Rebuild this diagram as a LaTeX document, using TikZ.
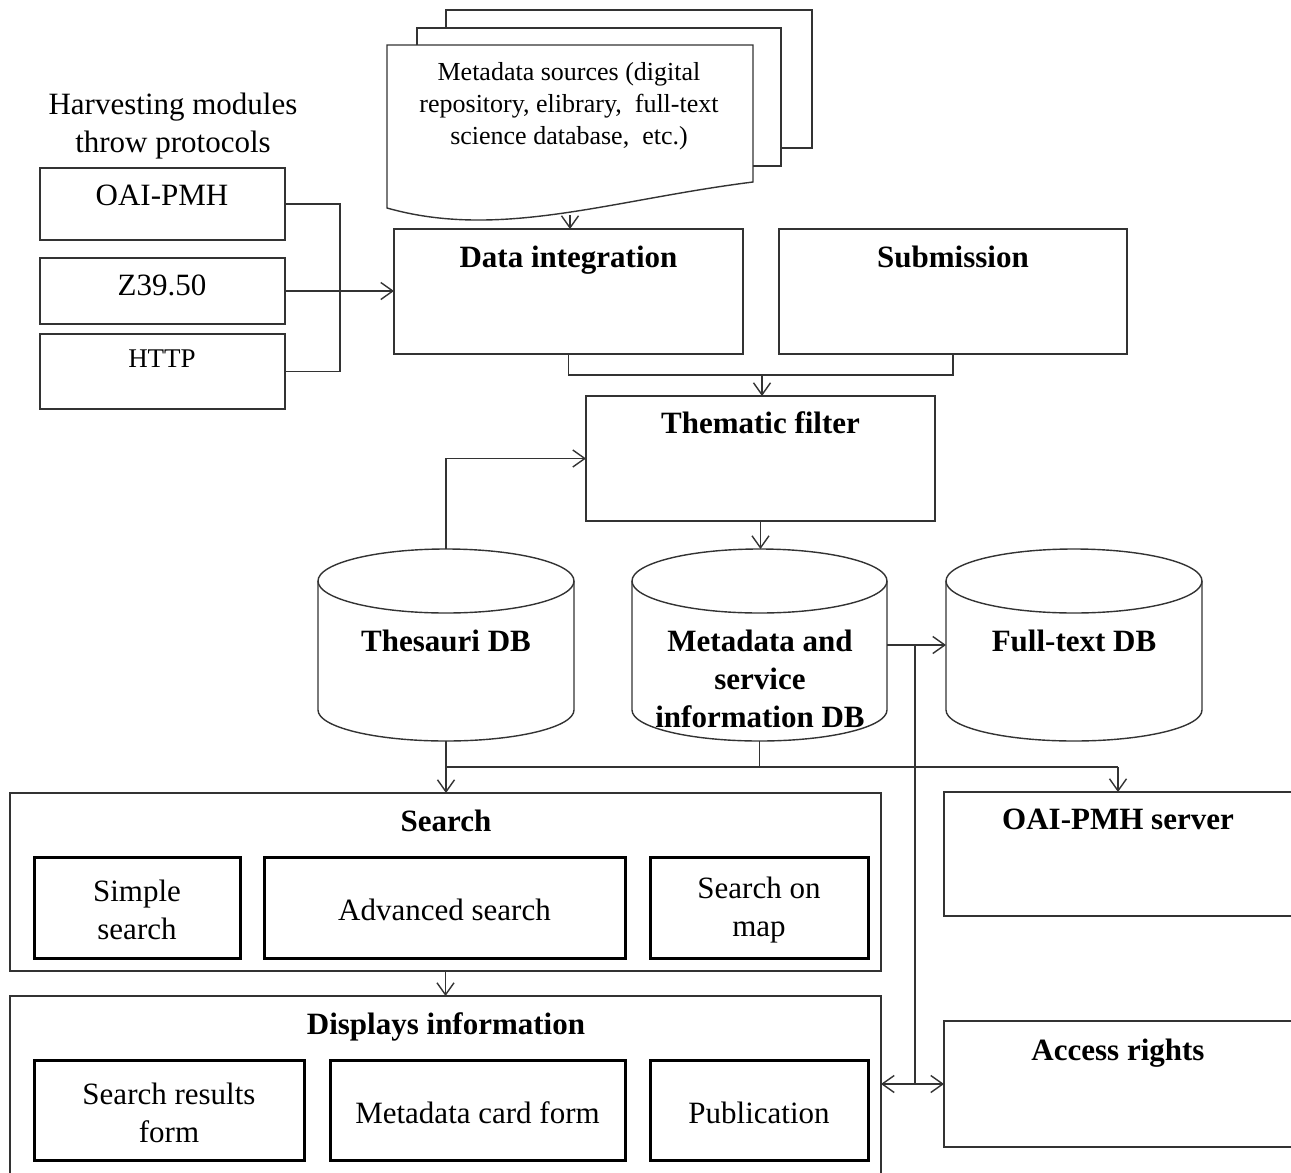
\documentclass[tikz,border=0pt]{standalone}
\usepackage{fontspec}
\setmainfont{Liberation Serif}
\usetikzlibrary{arrows.meta,calc,fit}
\tikzset{
  ln/.style={draw=black!80, line width=1.4pt},
  box/.style={rectangle, draw=black!80, line width=1.4pt, inner sep=0pt, outer sep=0pt},
  ibox/.style={rectangle, draw=black, line width=3pt, inner sep=0pt, outer sep=0pt},
  itxt/.style={font=\fontsize{31}{38}\selectfont, align=center, inner sep=0pt, anchor=center},
  ghost/.style={rectangle, inner sep=0pt, outer sep=0pt},
  ttl/.style={font=\bfseries\fontsize{31}{38}\selectfont, anchor=base, inner sep=0pt},
  txt/.style={font=\fontsize{31}{38}\selectfont, anchor=base, inner sep=0pt},
  arr/.style={ln, -{Straight Barb[length=12pt,width=17pt]}},
}
\begin{document}
\begin{tikzpicture}[x=1pt,y=-1pt]
\useasboundingbox (0,0) rectangle (1291,1173);
\fill[white] (0,0) rectangle (1291,1173);
\clip (0,0) rectangle (1291,1173);

% harvesting
\node[font=\fontsize{31}{38}\selectfont, align=center, inner sep=0pt] (harv) at (173,126) {Harvesting modules\\throw protocols};
\node[box, fit={(40,168) (285,240)}] (oai) {};
\node[box, fit={(40,258) (285,324)}] (z) {};
\node[box, fit={(40,334) (285,409)}] (http) {};
\node[txt] (oait) at (162,205) {OAI-PMH};
\node[txt] (zt) at (162,295) {Z39.50};
\node[txt, font=\fontsize{27}{32}\selectfont] (httpt) at (162,367) {HTTP};

% document stack
\node[ghost, fit={(387,45) (753,215)}] (doc) {};
\draw[ln] (446,28) -- (446,10) -- (812,10) -- (812,148) -- (781,148);
\draw[ln] (417,45) -- (417,28) -- (781,28) -- (781,166) -- (753,166);
\draw[ln] (doc.north west) -- (doc.north east) -- (753,182) .. controls (610,200) and (500,240) .. (387,208) -- cycle;
\node[font=\fontsize{26}{32}\selectfont, align=center, inner sep=0pt] (doct) at (569,106) {Metadata sources (digital\\repository, elibrary,\ \ full-text\\science database,\ \ etc.)};

% main boxes
\node[box, fit={(394,229) (743,354)}] (di) {};
\node[box, fit={(779,229) (1127,354)}] (sub) {};
\node[box, fit={(586,396) (935,521)}] (tf) {};
\node[ttl] (dit) at (568.5,267) {Data integration};
\node[ttl] (subt) at (953,267) {Submission};
\node[ttl] (tft) at (760.5,433) {Thematic filter};

% cylinders
\node[ghost, fit={(318,549) (574,741)}] (thes) {};
\node[ghost, fit={(632,549) (887,741)}] (meta) {};
\node[ghost, fit={(946,549) (1202,741)}] (full) {};
\draw[ln] ($(thes.north west)+(0,32)$) -- ($(thes.south west)+(0,-31)$) arc[start angle=180,end angle=360,x radius=128pt,y radius=31pt] -- ($(thes.north east)+(0,32)$);
\draw[ln] ($(thes.north)+(0,32)$) ellipse[x radius=128pt, y radius=32pt];
\draw[ln] ($(meta.north west)+(0,32)$) -- ($(meta.south west)+(0,-31)$) arc[start angle=180,end angle=360,x radius=127.5pt,y radius=31pt] -- ($(meta.north east)+(0,32)$);
\draw[ln] ($(meta.north)+(0,32)$) ellipse[x radius=127.5pt, y radius=32pt];
\draw[ln] ($(full.north west)+(0,32)$) -- ($(full.south west)+(0,-31)$) arc[start angle=180,end angle=360,x radius=128pt,y radius=31pt] -- ($(full.north east)+(0,32)$);
\draw[ln] ($(full.north)+(0,32)$) ellipse[x radius=128pt, y radius=32pt];
\node[ttl] (thest) at (446,651) {Thesauri DB};
\node[font=\bfseries\fontsize{31}{38}\selectfont, align=center, inner sep=0pt] (metat) at (760,679) {Metadata and\\service\\information DB};
\node[ttl] (fullt) at (1074,651) {Full-text DB};

% search
\node[box, fit={(10,793) (881,971)}] (search) {};
\node[ttl] (searcht) at (446,831) {Search};
\node[ibox, fit={(34,857) (240,958)}] (simple) {};
\node[ibox, fit={(264,857) (625,958)}] (adv) {};
\node[ibox, fit={(650,857) (868,958)}] (map) {};
\node[itxt] (simplet) at (137,910) {Simple\\search};
\node[itxt] (advt) at (444.5,910) {Advanced search};
\node[itxt] (mapt) at (759,910) {Search on\\map};

% displays
\node[box, fit={(10,996) (881,1190)}] (disp) {};
\node[ttl] (dispt) at (446,1034) {Displays information};
\node[ibox, fit={(34,1060) (304,1160)}] (srf) {};
\node[ibox, fit={(330,1060) (625,1160)}] (mcf) {};
\node[ibox, fit={(650,1060) (868,1160)}] (pub) {};
\node[itxt] (srft) at (169,1113) {Search results\\form};
\node[itxt] (mcft) at (477.5,1113) {Metadata card form};
\node[itxt] (pubt) at (759,1113) {Publication};

% right boxes
\node[box, fit={(944,792) (1310,916)}] (oais) {};
\node[ttl] (oaist) at (1118,829) {OAI-PMH server};
\node[box, fit={(944,1021) (1310,1147)}] (acc) {};
\node[ttl] (acct) at (1118,1060) {Access rights};

% connectors
\coordinate (j) at (340,291);
\draw[ln] (oai.east) -| (j);
\draw[ln] (http.east) -| (j);
\draw[arr] (z.east) -- (z.east -| di.west);
\draw[arr] (doc.south) -- (doc.south |- di.north);
\coordinate (m1) at (762,375);
\draw[ln] (di.south) |- (m1) -| (sub.south);
\draw[arr] (m1) -- (m1 |- tf.north);
\draw[arr] (thes.north) |- (tf.west);
\draw[arr] (tf.south) -- (tf.south |- meta.north);
\draw[arr] (meta.east) -- (meta.east -| full.west);
\coordinate (v1) at (915,645);
\coordinate (v2) at (915,1084);
\draw[ln] (v1) -- (v2);
\draw[arr] (v2) -- (v2 -| disp.east);
\draw[arr] (v2) -- (v2 -| acc.west);
\coordinate (h1) at (446,767);
\coordinate (h2) at (1118,767);
\draw[ln] (meta.south) -- (meta.south |- h1);
\draw[ln] (h1) -- (h2);
\draw[arr] (thes.south) -- (thes.south |- search.north);
\draw[arr] (h2) -- (h2 |- oais.north);
\draw[arr] (search.south) -- (disp.north);
\end{tikzpicture}
\end{document}
